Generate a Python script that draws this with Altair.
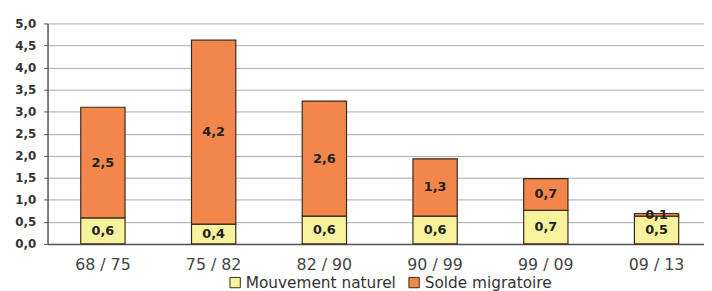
import altair as alt
import pandas as pd

periods = ["68 / 75", "75 / 82", "82 / 90", "90 / 99", "99 / 09", "09 / 13"]
naturel = [0.59, 0.45, 0.63, 0.63, 0.76, 0.63]
migratoire = [2.51, 4.17, 2.61, 1.30, 0.72, 0.06]
naturel_labels = ["0,6", "0,4", "0,6", "0,6", "0,7", "0,5"]
migratoire_labels = ["2,5", "4,2", "2,6", "1,3", "0,7", "0,1"]
y_ticks = [0, 0.5, 1, 1.5, 2, 2.5, 3, 3.5, 4, 4.5, 5]
series = ["Mouvement naturel", "Solde migratoire"]
colors = ["#F6F39C", "#F3874B"]

rows = []
for i, p in enumerate(periods):
    rows.append({"period": p, "serie": series[0], "value": naturel[i],
                 "label": naturel_labels[i], "mid": naturel[i] / 2, "ord": 0})
    rows.append({"period": p, "serie": series[1], "value": migratoire[i],
                 "label": migratoire_labels[i], "mid": naturel[i] + migratoire[i] / 2, "ord": 1})
df = pd.DataFrame(rows)

font = "DejaVu Sans"

x_axis = alt.Axis(labelAngle=0, labelFontSize=16, labelColor="#444",
                  labelFont=font, ticks=False, labelPadding=13,
                  domainColor="#555", domainWidth=1.5, grid=False)
x_scale = alt.Scale(range=[0, 672], paddingInner=0.6, paddingOuter=0.3)

y_axis = alt.Axis(values=y_ticks,
                  labelExpr="replace(format(datum.value, '.1f'), '.', ',')",
                  labelOverlap=False,
                  labelFontSize=12, labelFontWeight="bold", labelColor="#333",
                  labelFont=font, tickSize=4, tickColor="#555", labelPadding=8,
                  domainColor="#555", domainWidth=1.5,
                  gridColor="#aaaaaa", gridWidth=1)
y_scale = alt.Scale(domain=[0, 5], nice=False)

bars = alt.Chart(df).mark_bar(stroke="#3a2a1a", strokeWidth=1.2).encode(
    x=alt.X("period:N", sort=periods, title=None, scale=x_scale, axis=x_axis),
    y=alt.Y("value:Q", stack="zero", title=None, scale=y_scale, axis=y_axis),
    color=alt.Color("serie:N", scale=alt.Scale(domain=series, range=colors),
                    legend=alt.Legend(title=None, orient="none", direction="horizontal",
                                      legendX=182, legendY=254,
                                      symbolType="square", symbolSize=110,
                                      symbolStrokeColor="#3a2a1a", symbolStrokeWidth=1,
                                      labelFontSize=15.5, labelFont=font,
                                      labelColor="#333", columnPadding=10,
                                      labelOffset=3)),
    order=alt.Order("ord:Q"),
)

texts = alt.Chart(df).mark_text(fontSize=13, fontWeight="bold", color="#222",
                                font=font, baseline="middle").encode(
    x=alt.X("period:N", sort=periods, title=None, scale=x_scale, axis=x_axis),
    y=alt.Y("mid:Q", title=None, scale=y_scale, axis=y_axis),
    text="label:N",
)

chart = alt.layer(bars, texts).properties(
    width=664, height=223,
    autosize=alt.AutoSizeParams(type="none"),
    padding={"left": 40, "top": 14, "right": 0, "bottom": 46},
).configure_view(stroke=None)

chart.save("out.html", embed_options={"renderer": "svg", "actions": False})
